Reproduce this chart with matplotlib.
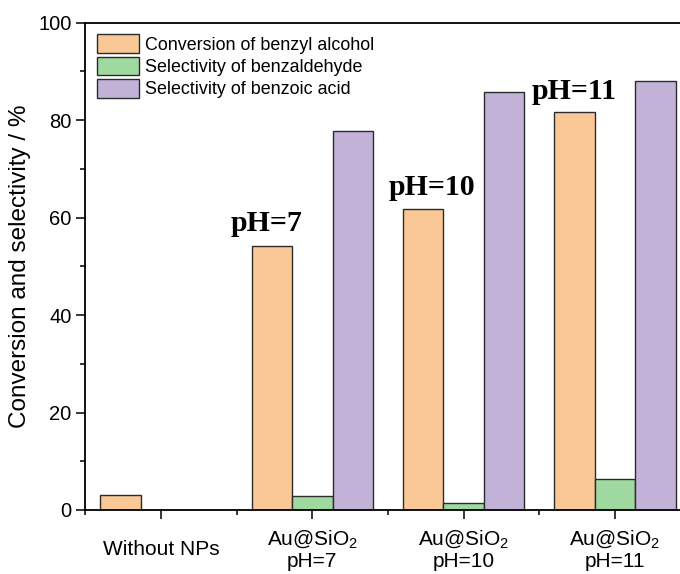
import matplotlib
matplotlib.use("Agg")
import matplotlib.pyplot as plt
import numpy as np
from matplotlib.ticker import MultipleLocator, FixedLocator

# values
groups = ["Without NPs", "Au@SiO$_2$\npH=7", "Au@SiO$_2$\npH=10", "Au@SiO$_2$\npH=11"]
conversion = [3.1, 54.1, 61.7, 81.7]
sel_aldehyde = [0.0, 2.8, 1.5, 6.3]
sel_acid = [0.0, 77.8, 85.7, 88.1]
series_labels = ["Conversion of benzyl alcohol", "Selectivity of benzaldehyde",
                 "Selectivity of benzoic acid"]
ph_notes = ["pH=7", "pH=10", "pH=11"]
ph_note_x = [0.70, 1.79, 2.73]
ph_note_y = [57.2, 64.6, 84.3]

colors = ["#FAC896", "#A0D9A0", "#C3B2D7"]
edge = "#2b2b2b"

plt.rcParams["font.family"] = ["Liberation Sans", "DejaVu Sans"]
plt.rcParams["mathtext.fontset"] = "custom"
plt.rcParams["mathtext.rm"] = "Liberation Sans"

fig = plt.figure(figsize=(6.8, 5.74), dpi=100)
ax = fig.add_axes([0.1257, 0.1115, 0.8897, 0.849])

x = np.arange(len(groups))
w = 0.268
for i, vals in enumerate([conversion, sel_aldehyde, sel_acid]):
    ax.bar(x + (i - 1) * w, vals, w, color=colors[i], edgecolor=edge,
           linewidth=1.0, label=series_labels[i], zorder=2)

for t, tx, ty in zip(ph_notes, ph_note_x, ph_note_y):
    ax.text(tx, ty, t, ha="center", va="baseline", fontsize=21.5,
            fontweight="bold", family="Liberation Serif")

ax.set_xlim(-0.5, 3.5)
ax.set_ylim(0, 100)
ax.yaxis.set_major_locator(MultipleLocator(20))
ax.yaxis.set_minor_locator(MultipleLocator(10))
ax.set_xticks(x)
ax.xaxis.set_minor_locator(FixedLocator(x - 0.5))
ax.set_xticklabels(groups, fontsize=15, linespacing=1.05)
for lbl in ax.get_xticklabels():
    lbl.set_verticalalignment("center")

ax.tick_params(axis="both", which="major", direction="out", length=6.5,
               width=1.1)
ax.tick_params(axis="y", which="major", labelsize=14.5)
ax.tick_params(axis="both", which="minor", direction="out", length=3.5, width=1.1)
ax.tick_params(axis="x", which="major", pad=22)
for s in ax.spines.values():
    s.set_linewidth(1.3)

ax.set_ylabel("Conversion and selectivity / %", fontsize=17.5, labelpad=5)

ax.legend(loc="upper left", bbox_to_anchor=(0.0, 1.0), frameon=False,
          fontsize=12.9, handlelength=2.35, handleheight=1.25,
          labelspacing=0.15, handletextpad=0.35, borderaxespad=0.25,
          borderpad=0.4)

fig.savefig("out.png", dpi=100)
